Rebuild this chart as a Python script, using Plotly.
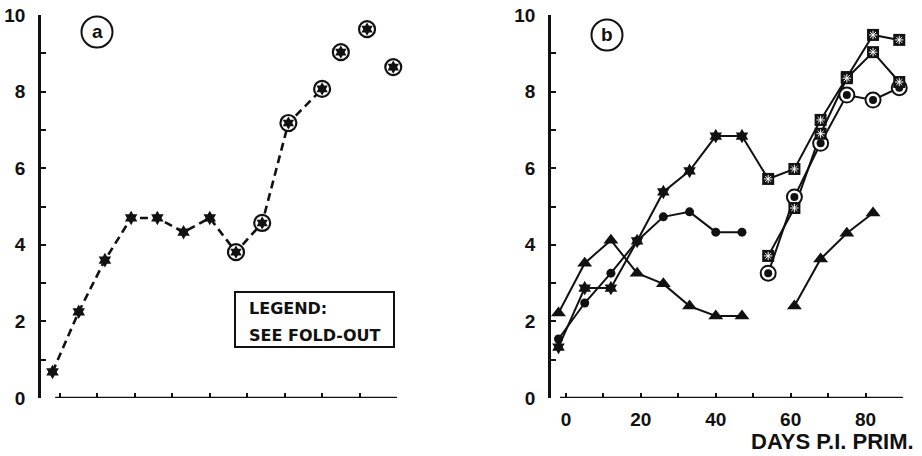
import plotly.graph_objects as go

W, H = 922, 456

# ---- panel (a): pooled series, sampled about weekly ----
days_a = [-2, 5, 12, 19, 26, 33, 40, 47, 54, 61, 70, 75, 82, 89]
vals_a = [0.68, 2.25, 3.6, 4.7, 4.7, 4.33, 4.7, 3.81, 4.57, 7.18, 8.07, 9.03, 9.63, 8.64]
n_dashed_a = 11   # dashed line joins the first points only
n_star_a = 7      # plain stars, then circled stars

# ---- panel (b): four groups ----
days_b = [-2, 5, 12, 19, 26, 33, 40, 47, 54, 61, 68, 75, 82, 89]
star_b = [1.33, 2.87, 2.87, 4.1, 5.38, 5.93, 6.84, 6.84, 5.72, 5.98, 7.26, 8.38, 9.48, 9.35]
n_star_b = 8      # stars up to day 47, squared stars afterwards
dot_b = [1.54, 2.48, 3.26, 4.1, 4.73, 4.86, 4.33, 4.33, None, None, None, None, None, None]
ring_b = [None, None, None, None, None, None, None, None, 3.26, 5.25, 6.65, 7.91, 7.78, 8.1]
tri_b = [2.22, 3.52, 4.12, 3.26, 2.98, 2.4, 2.14, 2.14, None, 2.4, 3.63, 4.3, 4.83, None]
square_b = [None, None, None, None, None, None, None, None, 3.71, 4.96, 6.9, 8.35, 9.03, 8.25]

# ---- axis ticks ----
x_ticks = [0, 10, 20, 30, 40, 50, 60, 70, 80, 90]
x_ticktext_b = ["0", "", "20", "", "40", "", "60", "", "80", ""]
y_ticks = [0, 1, 2, 3, 4, 5, 6, 7, 8, 9, 10]
y_ticktext = ["0", "", "2", "", "4", "", "6", "", "8", "", "10"]

FONT = "Liberation Sans"
BLACK = "#111111"


def px_x(p):
    return p / W


def px_y(p):
    return 1 - p / H


fig = go.Figure()

# panel (a)
fig.add_trace(go.Scatter(
    x=days_a[:n_dashed_a], y=vals_a[:n_dashed_a], mode="lines",
    line=dict(color=BLACK, width=2.6, dash="8px,5px"),
    xaxis="x", yaxis="y", hoverinfo="skip"))
fig.add_trace(go.Scatter(
    x=days_a[:n_star_a], y=vals_a[:n_star_a], mode="markers",
    marker=dict(symbol="hexagram", size=11, color=BLACK, line=dict(width=0)),
    xaxis="x", yaxis="y", cliponaxis=False))
fig.add_trace(go.Scatter(
    x=days_a[n_star_a:], y=vals_a[n_star_a:], mode="markers",
    marker=dict(symbol="circle", size=16, color="white", line=dict(color=BLACK, width=2.2)),
    xaxis="x", yaxis="y", cliponaxis=False))
fig.add_trace(go.Scatter(
    x=days_a[n_star_a:], y=vals_a[n_star_a:], mode="markers",
    marker=dict(symbol="hexagram", size=10, color=BLACK, line=dict(width=0)),
    xaxis="x", yaxis="y", cliponaxis=False))

# panel (b) lines
line_b = dict(color=BLACK, width=2)
for ys in (star_b, dot_b, ring_b, tri_b, square_b):
    fig.add_trace(go.Scatter(x=days_b, y=ys, mode="lines", line=line_b,
                             connectgaps=False, xaxis="x2", yaxis="y2",
                             hoverinfo="skip"))

# panel (b) markers
fig.add_trace(go.Scatter(
    x=days_b[:n_star_b], y=star_b[:n_star_b], mode="markers",
    marker=dict(symbol="hexagram", size=11, color=BLACK, line=dict(width=0)),
    xaxis="x2", yaxis="y2", cliponaxis=False))
fig.add_trace(go.Scatter(
    x=days_b, y=dot_b, mode="markers",
    marker=dict(symbol="circle", size=9, color=BLACK),
    xaxis="x2", yaxis="y2", cliponaxis=False))
fig.add_trace(go.Scatter(
    x=days_b, y=tri_b, mode="markers",
    marker=dict(symbol="triangle-up", size=13, color=BLACK),
    xaxis="x2", yaxis="y2", cliponaxis=False))
fig.add_trace(go.Scatter(
    x=days_b, y=ring_b, mode="markers",
    marker=dict(symbol="circle", size=15, color="white", line=dict(color=BLACK, width=2)),
    xaxis="x2", yaxis="y2", cliponaxis=False))
fig.add_trace(go.Scatter(
    x=days_b, y=ring_b, mode="markers",
    marker=dict(symbol="circle", size=8, color=BLACK),
    xaxis="x2", yaxis="y2", cliponaxis=False))

# squared-star markers: late part of the star group, plus the square group
boxed_sets = (
    (days_b[n_star_b:], star_b[n_star_b:]),
    (days_b, square_b),
)
for xs, ys in boxed_sets:
    fig.add_trace(go.Scatter(
        x=xs, y=ys, mode="markers",
        marker=dict(symbol="square", size=12, color=BLACK),
        xaxis="x2", yaxis="y2", cliponaxis=False))
    fig.add_trace(go.Scatter(
        x=xs, y=ys, mode="markers",
        marker=dict(symbol="asterisk-open", size=7, color="white",
                    line=dict(color="white", width=1)),
        xaxis="x2", yaxis="y2", cliponaxis=False))

tickfont = dict(family=FONT, size=19, color=BLACK, weight="bold")
y_common = dict(range=[0, 10], domain=[px_y(398), px_y(15)], showgrid=False,
                zeroline=False, showline=True, linecolor=BLACK, linewidth=2.5,
                tickmode="array", tickvals=y_ticks, ticktext=y_ticktext,
                ticks="inside", ticklen=5, tickwidth=2, tickcolor=BLACK,
                tickfont=tickfont, ticklabelstandoff=9, fixedrange=True,
                automargin=False)
x_common = dict(showgrid=False, zeroline=False, showline=False,
                tickmode="array", tickvals=x_ticks, ticks="inside", ticklen=5,
                tickwidth=2, tickcolor=BLACK, tickfont=tickfont, fixedrange=True,
                automargin=False)

fig.update_layout(
    width=W, height=H, margin=dict(l=0, r=0, t=0, b=0, autoexpand=False),
    paper_bgcolor="white", plot_bgcolor="white", showlegend=False,
    xaxis=dict(x_common, domain=[px_x(41), px_x(397)], range=[-5.07, 90],
               showticklabels=False, anchor="y"),
    yaxis=dict(y_common, anchor="x"),
    xaxis2=dict(x_common, domain=[px_x(551), px_x(903)], range=[-4.0, 90],
                ticktext=x_ticktext_b, ticklabelstandoff=8, anchor="y2"),
    yaxis2=dict(y_common, anchor="x2"),
)

# bottom axis lines (start just right of the vertical axis)
fig.add_shape(type="line", xref="x", yref="y", x0=-1.3, x1=90, y0=0, y1=0,
              line=dict(color=BLACK, width=2.5))
fig.add_shape(type="line", xref="x2", yref="y2", x0=-1.6, x1=90, y0=0, y1=0,
              line=dict(color=BLACK, width=2.5))

# panel letters in circles
for cx, cy, letter in ((97, 32, "a"), (607, 35, "b")):
    r = 15.5
    fig.add_shape(type="circle", xref="paper", yref="paper",
                  x0=px_x(cx - r), x1=px_x(cx + r), y0=px_y(cy + r), y1=px_y(cy - r),
                  line=dict(color=BLACK, width=2))
    fig.add_annotation(x=px_x(cx), y=px_y(cy - 1), xref="paper", yref="paper",
                       xanchor="center", yanchor="middle",
                       text=letter, showarrow=False,
                       font=dict(family=FONT, size=19, color=BLACK, weight="bold"))

# legend note box in panel (a)
fig.add_shape(type="rect", xref="paper", yref="paper",
              x0=px_x(235), x1=px_x(394), y0=px_y(347), y1=px_y(292),
              line=dict(color=BLACK, width=2))
note_font = dict(family="DejaVu Sans", size=16, color=BLACK, weight="bold")
fig.add_annotation(x=px_x(247), y=px_y(308), xref="paper", yref="paper",
                   xanchor="left", yanchor="middle", text="LEGEND:",
                   showarrow=False, font=note_font)
fig.add_annotation(x=px_x(247), y=px_y(335), xref="paper", yref="paper",
                   xanchor="left", yanchor="middle", text="SEE FOLD-OUT",
                   showarrow=False, font=note_font)

# x-axis title of panel (b)
fig.add_annotation(x=px_x(916), y=px_y(441), xref="paper", yref="paper",
                   xanchor="right", yanchor="middle", text="DAYS P.I. PRIM.",
                   showarrow=False,
                   font=dict(family=FONT, size=22, color=BLACK, weight="bold"))

fig.write_html("out.html")
